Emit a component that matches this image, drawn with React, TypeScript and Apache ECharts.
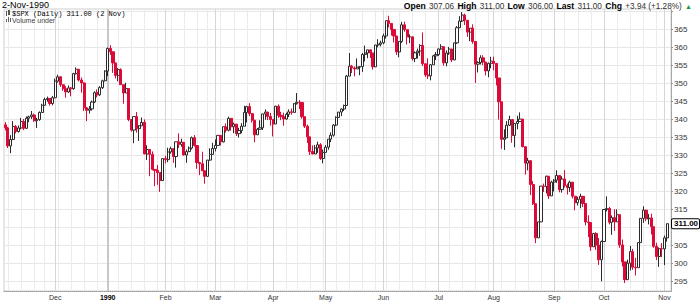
import React, { useEffect, useRef } from "react";
import * as echarts from "echarts";

// ---- trading days (day-of-month) per month ----
const NOV89_DAYS = [3, 6, 7, 8, 9, 10, 13, 14, 15, 16, 17, 20, 21, 22, 24, 27, 28, 29, 30];
const DEC89_DAYS = [1, 4, 5, 6, 7, 8, 11, 12, 13, 14, 15, 18, 19, 20, 21, 22, 26, 27, 28, 29];
const JAN90_DAYS = [2, 3, 4, 5, 8, 9, 10, 11, 12, 15, 16, 17, 18, 19, 22, 23, 24, 25, 26, 29, 30, 31];
const FEB90_DAYS = [1, 2, 5, 6, 7, 8, 9, 12, 13, 14, 15, 16, 20, 21, 22, 23, 26, 27, 28];
const MAR90_DAYS = [1, 2, 5, 6, 7, 8, 9, 12, 13, 14, 15, 16, 19, 20, 21, 22, 23, 26, 27, 28, 29, 30];
const APR90_DAYS = [2, 3, 4, 5, 6, 9, 10, 11, 12, 16, 17, 18, 19, 20, 23, 24, 25, 26, 27, 30];
const MAY90_DAYS = [1, 2, 3, 4, 7, 8, 9, 10, 11, 14, 15, 16, 17, 18, 21, 22, 23, 24, 25, 29, 30, 31];
const JUN90_DAYS = [1, 4, 5, 6, 7, 8, 11, 12, 13, 14, 15, 18, 19, 20, 21, 22, 25, 26, 27, 28, 29];
const JUL90_DAYS = [2, 3, 5, 6, 9, 10, 11, 12, 13, 16, 17, 18, 19, 20, 23, 24, 25, 26, 27, 30, 31];
const AUG90_DAYS = [1, 2, 3, 6, 7, 8, 9, 10, 13, 14, 15, 16, 17, 20, 21, 22, 23, 24, 27, 28, 29, 30, 31];
const SEP90_DAYS = [4, 5, 6, 7, 10, 11, 12, 13, 14, 17, 18, 19, 20, 21, 24, 25, 26, 27, 28];
const OCT90_DAYS = [1, 2, 3, 4, 5, 8, 9, 10, 11, 12, 15, 16, 17, 18, 19, 22, 23, 24, 25, 26, 29, 30, 31];
const NOV90_DAYS = [1, 2];

// ---- closes / highs / lows (open of each bar = previous close) ----
const FIRST_OPEN = 338.48;

const NOV89_CLOSE = [337.62, 332.6, 334.4, 338.0, 336.6, 337.6, 339.4, 337.5, 340.3, 340.7, 341.2, 339.6, 339.9, 341.9, 343.9, 345.5, 345.8, 344.4, 346.0];
const NOV89_HIGH = [339.2, 337.9, 335.6, 339.5, 338.4, 338.3, 340.4, 340.1, 340.8, 341.0, 342.3, 341.6, 340.4, 342.2, 344.3, 346.0, 346.3, 345.9, 346.5];
const NOV89_LOW = [336.9, 332.0, 330.6, 334.2, 336.1, 336.3, 337.2, 337.0, 337.3, 339.2, 340.1, 339.3, 337.6, 339.6, 341.8, 343.8, 344.9, 343.8, 343.9];

const DEC89_CLOSE = [350.6, 351.8, 349.6, 348.5, 347.6, 348.7, 348.5, 352.7, 353.9, 350.9, 350.1, 343.2, 342.5, 342.9, 344.8, 347.4, 346.8, 348.8, 350.7, 353.4];
const DEC89_HIGH = [351.3, 352.4, 352.0, 349.7, 349.2, 349.4, 348.9, 352.9, 354.4, 353.9, 351.6, 350.3, 343.4, 343.7, 345.2, 347.8, 348.3, 349.2, 351.0, 353.6];
const DEC89_LOW = [345.8, 350.2, 349.0, 347.9, 346.0, 347.3, 346.4, 348.2, 352.4, 350.5, 347.4, 342.3, 339.5, 341.6, 342.4, 344.5, 346.1, 346.5, 348.4, 350.5];

const JAN90_CLOSE = [359.69, 358.76, 355.67, 352.2, 353.79, 349.62, 347.31, 348.53, 339.93, 337.0, 340.75, 337.4, 338.19, 339.15, 330.38, 331.61, 330.26, 326.08, 325.8, 325.2, 322.98, 329.08];
const JAN90_HIGH = [359.9, 360.59, 358.76, 355.67, 354.24, 354.17, 349.62, 350.14, 348.53, 339.94, 340.75, 342.01, 338.38, 340.48, 339.96, 332.76, 331.71, 331.08, 326.08, 327.31, 325.2, 329.08];
const JAN90_LOW = [351.98, 357.89, 352.89, 351.35, 350.54, 349.61, 344.32, 347.31, 339.49, 336.57, 333.37, 336.26, 333.98, 338.19, 330.28, 328.67, 324.2, 325.8, 321.44, 321.79, 319.83, 322.98];

const FEB90_CLOSE = [328.79, 330.92, 331.85, 329.66, 333.75, 333.02, 333.62, 330.08, 331.02, 332.01, 334.89, 332.72, 327.99, 327.67, 325.7, 324.15, 328.67, 330.26, 331.89];
const FEB90_HIGH = [329.86, 332.1, 332.39, 331.85, 333.76, 336.09, 334.6, 333.62, 331.61, 332.47, 335.21, 335.64, 332.72, 328.17, 330.98, 325.7, 328.67, 331.94, 333.48];
const FEB90_LOW = [327.76, 328.09, 330.45, 327.92, 326.55, 332.0, 332.41, 329.97, 327.92, 330.88, 331.61, 332.42, 326.26, 324.47, 325.7, 322.1, 323.98, 328.47, 330.16];

const MAR90_CLOSE = [332.74, 335.54, 333.74, 337.93, 336.95, 340.27, 337.93, 338.67, 336.0, 336.87, 338.07, 341.91, 343.53, 341.57, 339.74, 335.69, 337.22, 337.63, 341.5, 342.0, 340.79, 339.94];
const MAR90_HIGH = [334.4, 335.54, 335.54, 337.93, 338.84, 340.73, 340.27, 339.08, 338.67, 337.63, 338.91, 343.76, 343.76, 344.49, 341.76, 339.74, 337.58, 339.74, 341.5, 342.76, 342.07, 341.76];
const MAR90_LOW = [331.08, 332.72, 332.72, 333.57, 336.33, 336.65, 336.84, 336.14, 335.36, 334.93, 336.11, 338.07, 339.12, 340.87, 339.12, 333.62, 335.69, 337.22, 337.03, 339.88, 339.77, 338.21];

const APR90_CLOSE = [338.7, 343.64, 341.09, 340.73, 340.08, 341.37, 342.07, 341.92, 344.34, 344.74, 344.68, 340.72, 338.09, 335.12, 331.05, 330.36, 332.03, 332.92, 329.11, 330.8];
const APR90_HIGH = [339.94, 343.76, 344.12, 342.07, 341.83, 341.83, 342.77, 343.0, 344.48, 347.3, 345.33, 344.68, 340.72, 338.52, 335.12, 332.73, 332.86, 333.78, 333.37, 331.61];
const APR90_LOW = [335.23, 338.7, 340.4, 339.77, 338.21, 339.88, 340.62, 341.26, 341.92, 344.1, 342.85, 340.17, 337.59, 333.41, 330.09, 330.26, 330.36, 330.67, 328.71, 327.76];

const MAY90_CLOSE = [332.25, 334.48, 335.57, 338.39, 340.53, 342.01, 342.86, 343.82, 352.0, 354.75, 354.28, 354.0, 354.47, 354.64, 358.0, 358.43, 359.29, 358.41, 354.58, 360.65, 360.86, 361.23];
const MAY90_HIGH = [332.83, 334.48, 336.35, 338.66, 340.84, 342.01, 343.0, 344.1, 352.31, 358.41, 355.1, 354.68, 356.92, 354.64, 358.41, 360.5, 359.29, 359.29, 358.41, 360.65, 362.26, 361.82];
const MAY90_LOW = [330.8, 331.53, 333.67, 335.17, 338.11, 340.53, 340.87, 342.3, 343.82, 352.0, 352.84, 351.95, 354.0, 352.24, 353.2, 356.09, 356.99, 357.02, 353.79, 354.55, 360.0, 360.23];

const JUN90_CLOSE = [363.16, 367.4, 366.64, 364.96, 363.15, 358.71, 361.63, 366.25, 364.9, 362.9, 362.91, 356.88, 358.47, 358.97, 360.52, 355.43, 352.31, 352.06, 355.14, 357.63, 358.02];
const JUN90_HIGH = [363.78, 367.4, 368.78, 366.64, 364.96, 363.16, 361.63, 367.09, 367.16, 364.9, 363.6, 362.91, 358.86, 359.65, 360.86, 364.13, 355.43, 356.94, 355.38, 357.9, 358.7];
const JUN90_LOW = [360.86, 362.43, 365.5, 363.27, 361.36, 357.87, 357.23, 361.2, 364.33, 360.78, 361.16, 356.32, 355.9, 356.88, 357.63, 354.78, 351.75, 351.21, 350.82, 355.14, 356.47];

const JUL90_CLOSE = [359.54, 360.16, 355.68, 358.42, 359.52, 356.49, 361.23, 365.44, 367.31, 368.95, 367.52, 364.22, 365.32, 361.61, 355.31, 355.79, 357.09, 355.91, 353.44, 355.55, 356.15];
const JUL90_HIGH = [359.67, 360.88, 360.16, 359.14, 360.12, 359.52, 361.24, 365.87, 368.65, 369.78, 369.37, 367.52, 365.38, 366.37, 361.61, 356.11, 357.79, 357.8, 355.91, 355.77, 357.36];
const JUL90_LOW = [357.61, 359.33, 354.88, 354.72, 357.89, 355.93, 356.49, 360.94, 365.35, 367.02, 366.2, 362.9, 361.69, 360.99, 350.09, 353.02, 355.22, 355.07, 352.18, 351.7, 354.19];

const AUG90_CLOSE = [355.52, 351.48, 344.86, 334.43, 334.83, 338.35, 339.94, 335.52, 338.84, 339.39, 340.06, 332.39, 327.83, 328.51, 321.86, 316.55, 307.06, 311.51, 321.44, 321.34, 324.19, 318.71, 322.56];
const AUG90_HIGH = [357.38, 355.52, 351.48, 344.86, 337.2, 339.5, 340.99, 339.94, 338.9, 340.98, 341.92, 340.06, 332.39, 329.3, 328.51, 322.83, 316.55, 311.51, 321.44, 322.14, 324.34, 324.19, 322.93];
const AUG90_LOW = [353.66, 349.4, 339.9, 331.8, 331.5, 334.83, 338.11, 333.5, 332.22, 337.22, 339.39, 332.17, 324.64, 325.81, 318.93, 316.18, 305.6, 307.06, 311.51, 319.83, 319.41, 317.85, 318.71];

const SEP90_CLOSE = [323.09, 324.39, 320.46, 323.4, 321.63, 321.04, 322.54, 318.65, 316.83, 317.77, 318.6, 316.6, 311.48, 311.32, 304.59, 308.26, 305.06, 300.97, 306.05];
const SEP90_HIGH = [323.4, 325.83, 324.39, 324.19, 325.9, 322.15, 322.95, 322.54, 318.65, 318.49, 319.33, 318.6, 316.6, 313.34, 311.32, 308.47, 308.64, 307.04, 306.3];
const SEP90_LOW = [319.95, 322.36, 319.71, 319.63, 321.08, 319.1, 319.83, 318.01, 314.72, 316.05, 315.28, 315.63, 310.53, 307.3, 303.45, 304.59, 303.72, 299.53, 295.0];

const OCT90_CLOSE = [314.94, 315.21, 311.4, 312.69, 311.5, 313.48, 305.1, 300.39, 295.46, 300.03, 303.23, 298.92, 298.76, 305.74, 312.48, 314.76, 312.36, 312.6, 310.17, 304.71, 301.88, 304.06, 304.0];
const OCT90_HIGH = [314.94, 318.6, 315.66, 313.3, 315.0, 315.0, 313.48, 306.6, 300.39, 301.0, 304.8, 304.0, 301.5, 305.74, 312.48, 315.83, 314.9, 313.71, 313.8, 310.17, 305.7, 304.4, 305.6];
const OCT90_LOW = [306.05, 314.4, 310.8, 307.9, 309.0, 311.5, 304.3, 299.1, 294.51, 295.46, 298.0, 298.2, 296.6, 298.76, 305.74, 311.2, 311.7, 310.8, 308.0, 304.3, 300.9, 299.0, 301.7];

const NOV90_CLOSE = [307.06, 311.0];
const NOV90_HIGH = [307.7, 311.0];
const NOV90_LOW = [299.5, 306.0];

const MONTHS: [number, number, number[], number[], number[], number[]][] = [
  [1989, 11, NOV89_DAYS, NOV89_CLOSE, NOV89_HIGH, NOV89_LOW],
  [1989, 12, DEC89_DAYS, DEC89_CLOSE, DEC89_HIGH, DEC89_LOW],
  [1990, 1, JAN90_DAYS, JAN90_CLOSE, JAN90_HIGH, JAN90_LOW],
  [1990, 2, FEB90_DAYS, FEB90_CLOSE, FEB90_HIGH, FEB90_LOW],
  [1990, 3, MAR90_DAYS, MAR90_CLOSE, MAR90_HIGH, MAR90_LOW],
  [1990, 4, APR90_DAYS, APR90_CLOSE, APR90_HIGH, APR90_LOW],
  [1990, 5, MAY90_DAYS, MAY90_CLOSE, MAY90_HIGH, MAY90_LOW],
  [1990, 6, JUN90_DAYS, JUN90_CLOSE, JUN90_HIGH, JUN90_LOW],
  [1990, 7, JUL90_DAYS, JUL90_CLOSE, JUL90_HIGH, JUL90_LOW],
  [1990, 8, AUG90_DAYS, AUG90_CLOSE, AUG90_HIGH, AUG90_LOW],
  [1990, 9, SEP90_DAYS, SEP90_CLOSE, SEP90_HIGH, SEP90_LOW],
  [1990, 10, OCT90_DAYS, OCT90_CLOSE, OCT90_HIGH, OCT90_LOW],
  [1990, 11, NOV90_DAYS, NOV90_CLOSE, NOV90_HIGH, NOV90_LOW],
];

const MONTH_ABBR = ["Jan", "Feb", "Mar", "Apr", "May", "Jun", "Jul", "Aug", "Sep", "Oct", "Nov", "Dec"];
const Y_MIN = 292.3;
const Y_MAX = 370.64;
const Y_LABEL_MIN = 295;
const Y_LABEL_MAX = 365;

const RED = "#dc0a36";
const INK = "#2a2a2a";
const SANS = "Liberation Sans";
const MONO = "Liberation Mono";

type Row = { y: number; m: number; d: number; c: number; h: number; l: number };

function buildRows(): Row[] {
  const rows: Row[] = [];
  MONTHS.forEach(([y, m, days, cl, hi, lo]) => {
    days.forEach((d, k) => rows.push({ y, m, d, c: cl[k], h: hi[k], l: lo[k] }));
  });
  return rows;
}

export default function App() {
  const ref = useRef<HTMLDivElement>(null);

  useEffect(() => {
    if (!ref.current) return;
    const chart = echarts.init(ref.current, undefined, { renderer: "svg" });

    const rows = buildRows();
    const n = rows.length;
    const opens = rows.map((r, i) => (i === 0 ? FIRST_OPEN : rows[i - 1].c));
    const ohlc = rows.map((r, i) => [opens[i], r.c, r.l, r.h]);
    const pad2 = (v: number) => (v < 10 ? "0" + v : "" + v);
    const cats = rows.map((r) => `${r.y}-${pad2(r.m)}-${pad2(r.d)}`);
    cats.push(""); // one empty slot of right padding

    const dayNum = rows.map((r) => Date.UTC(r.y, r.m - 1, r.d) / 86400000);
    const dow = rows.map((r) => new Date(Date.UTC(r.y, r.m - 1, r.d)).getUTCDay());
    const isWeekStart = cats.map(
      (_, i) => i > 0 && i < n && (dow[i] <= dow[i - 1] || dayNum[i] - dayNum[i - 1] >= 7)
    );
    const isMonthStart = cats.map((_, i) => i > 0 && i < n && rows[i].m !== rows[i - 1].m);
    const isYearStart = cats.map((_, i) => isMonthStart[i] && rows[i].m === 1);

    const last = rows[n - 1];
    const lastOpen = opens[n - 1];
    const chg = last.c - lastOpen;
    const pct = (chg / lastOpen) * 100;
    const sgn = (v: number) => (v >= 0 ? "+" : "");
    const dateLabel = `${last.d}-${MONTH_ABBR[last.m - 1]}-${last.y}`;
    const spxLabel = `$SPX (Daily) ${last.c.toFixed(2)} (${last.d} ${MONTH_ABBR[last.m - 1]})`;
    const headerText =
      `{b|Open} {v|${lastOpen.toFixed(2)}} {b|High} {v|${last.h.toFixed(2)}} ` +
      `{b|Low} {v|${last.l.toFixed(2)}} {b|Last} {v|${last.c.toFixed(2)}} ` +
      `{b|Chg} {v|${sgn(chg)}${chg.toFixed(2)} (${sgn(pct)}${pct.toFixed(2)}%)} {up|${chg >= 0 ? "▲" : "▼"}}`;

    const hiddenAxis = (interval: (i: number) => boolean, color: string, width: number) => ({
      type: "category",
      data: cats,
      position: "top",
      boundaryGap: true,
      axisLine: { show: false },
      axisTick: { show: false, alignWithLabel: true },
      axisLabel: { show: false },
      splitLine: { show: true, alignWithLabel: true, interval: (i: number) => interval(i), lineStyle: { color, width } },
    });

    const option: any = {
      animation: false,
      backgroundColor: "#ffffff",
      grid: {
        left: 4,
        right: 29,
        top: 9,
        bottom: 11,
        show: true,
        borderColor: "#cfcfcf",
        borderWidth: 1,
        backgroundColor: "transparent",
      },
      xAxis: [
        {
          type: "category",
          data: cats,
          position: "bottom",
          boundaryGap: true,
          axisLine: { show: true, lineStyle: { color: "#9a9a9a", type: "dotted" } },
          axisTick: { show: false, alignWithLabel: true },
          axisLabel: {
            interval: (i: number) => isMonthStart[i],
            margin: 3,
            fontSize: 7,
            fontFamily: SANS,
            color: "#333",
            formatter: (val: string) => {
              if (!val) return "";
              const y = Number(val.slice(0, 4));
              const m = Number(val.slice(5, 7));
              return m === 1 ? `{yr|${y}}` : MONTH_ABBR[m - 1];
            },
            rich: { yr: { fontSize: 7, fontWeight: "bold", color: "#000", fontFamily: SANS } },
          },
          splitLine: {
            show: true,
            alignWithLabel: true,
            interval: (i: number) => isWeekStart[i],
            lineStyle: { color: "#ebebeb", width: 1 },
          },
        },
        hiddenAxis((i) => isMonthStart[i], "#d6d6d6", 1),
        hiddenAxis((i) => isYearStart[i], "#c8c8c8", 2),
      ],
      yAxis: {
        type: "value",
        position: "right",
        min: Y_MIN,
        max: Y_MAX,
        minInterval: 5,
        maxInterval: 5,
        splitNumber: 16,
        axisLine: { show: true, lineStyle: { color: "#9a9a9a", type: "dotted" } },
        axisTick: { show: true, length: 2, lineStyle: { color: "#9a9a9a" } },
        axisLabel: {
          margin: 3,
          fontSize: 8,
          fontFamily: SANS,
          color: "#333",
          showMinLabel: false,
          showMaxLabel: false,
          formatter: (v: number) =>
            v >= Y_LABEL_MIN &&
            v <= Y_LABEL_MAX &&
            Math.abs(v % 5) < 1e-6 &&
            Math.abs(v - last.c) > 2.5
              ? String(Math.round(v))
              : "",
        },
        splitLine: { show: true, lineStyle: { color: "#e6e6e6", width: 1 } },
      },
      series: [
        {
          type: "candlestick",
          name: "$SPX",
          xAxisIndex: 0,
          yAxisIndex: 0,
          data: ohlc,
          barWidth: 2.6,
          z: 5,
          itemStyle: {
            color: "#ffffff",
            color0: RED,
            borderColor: INK,
            borderColor0: RED,
            borderWidth: 1,
          },
          markLine: {
            silent: true,
            symbol: ["none", "none"],
            lineStyle: { color: "transparent", width: 0 },
            label: {
              show: true,
              position: "end",
              distance: 1,
              formatter: last.c.toFixed(2),
              fontSize: 8,
              fontWeight: "bold",
              fontFamily: SANS,
              color: "#000",
              backgroundColor: "#fff",
              borderColor: "#000",
              borderWidth: 1,
              borderRadius: 1,
              padding: [1, 1, 0, 2],
            },
            data: [{ yAxis: last.c }],
          },
        },
      ],
      graphic: [
        {
          type: "text",
          left: 2,
          top: 0,
          z: 100,
          style: { text: dateLabel, fontSize: 9, fontFamily: SANS, fill: "#000" },
        },
        {
          type: "text",
          right: 8,
          top: 0,
          z: 100,
          style: {
            text: headerText,
            fill: "#000",
            rich: {
              b: { fontSize: 8.6, fontWeight: "bold", fontFamily: SANS, fill: "#000" },
              v: { fontSize: 8.2, fontFamily: SANS, fill: "#333" },
              up: { fontSize: 7, fill: "#1d9a2a", fontFamily: SANS },
            },
          },
        },
        // small series icon
        { type: "rect", z: 100, shape: { x: 6, y: 11, width: 1, height: 5 }, style: { fill: "#555" } },
        { type: "rect", z: 100, shape: { x: 8, y: 10, width: 2, height: 5 }, style: { fill: "#555" } },
        {
          type: "text",
          left: 12,
          top: 10,
          z: 100,
          style: { text: spxLabel, fontSize: 7, fontFamily: MONO, fill: "#000" },
        },
        // small volume icon
        { type: "rect", z: 100, shape: { x: 6, y: 19, width: 1, height: 3 }, style: { fill: "#666" } },
        { type: "rect", z: 100, shape: { x: 8, y: 17, width: 1, height: 5 }, style: { fill: "#666" } },
        { type: "rect", z: 100, shape: { x: 10, y: 18, width: 1, height: 4 }, style: { fill: "#666" } },
        {
          type: "text",
          left: 12,
          top: 17,
          z: 100,
          style: { text: "Volume under", fontSize: 7, fontFamily: SANS, fill: "#444" },
        },
      ],
    };

    chart.setOption(option);
    return () => chart.dispose();
  }, []);

  return (
    <div
      ref={ref}
      style={{ position: "fixed", left: 0, top: 0, width: 700, height: 302, background: "#fff" }}
    />
  );
}
